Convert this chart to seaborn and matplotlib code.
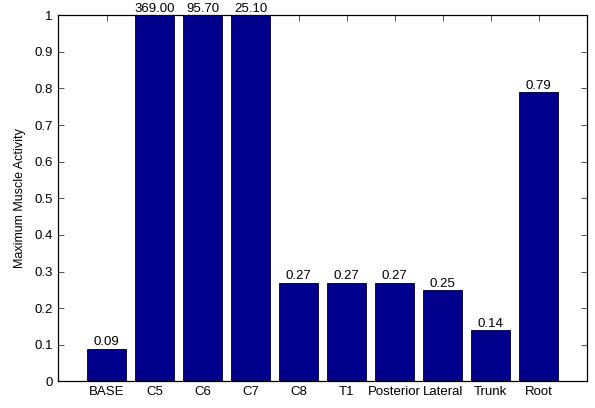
import matplotlib
matplotlib.use("Agg")
import matplotlib.pyplot as plt
import seaborn as sns
import pandas as pd

# Peak muscle activity per nerve condition
conditions = ["BASE", "C5", "C6", "C7", "C8", "T1", "Posterior", "Lateral", "Trunk", "Root"]
max_activity = [0.09, 369.00, 95.70, 25.10, 0.27, 0.27, 0.27, 0.25, 0.14, 0.79]
y_ticks = [0, 0.1, 0.2, 0.3, 0.4, 0.5, 0.6, 0.7, 0.8, 0.9, 1]
y_tick_labels = ["0", "0.1", "0.2", "0.3", "0.4", "0.5", "0.6", "0.7", "0.8", "0.9", "1"]

df = pd.DataFrame({"condition": conditions, "activity": max_activity})

sns.set_theme(style="white")
plt.rcParams["font.family"] = ["Liberation Sans", "DejaVu Sans"]
plt.rcParams["text.color"] = "black"
plt.rcParams["axes.labelcolor"] = "black"
plt.rcParams["xtick.color"] = "black"
plt.rcParams["ytick.color"] = "black"
fs = 9.5

fig = plt.figure(figsize=(5.95, 4.08), dpi=100)
ax = fig.add_axes([0.0983, 0.065, 0.8877, 0.898])

sns.barplot(data=df, x="condition", y="activity", ax=ax, color="#00008C",
            saturation=1, width=0.8, edgecolor="black", linewidth=0.6)

ax.set_ylim(0, 1)
ax.set_xlim(-1, len(conditions))

# value labels above each bar (clipped bars are labelled at the top edge)
for i, v in enumerate(max_activity):
    y = min(v, 1.0)
    ax.text(i, y + 0.001, f"{v:.2f}", ha="center", va="bottom",
            fontsize=fs, color="black", clip_on=False)

ax.set_yticks(y_ticks)
ax.set_yticklabels(y_tick_labels)
ax.set_xlabel("")
ax.set_ylabel("Maximum Muscle Activity", fontsize=9, labelpad=6)

ax.tick_params(axis="both", which="both", direction="in", length=4, width=0.6,
               labelsize=fs, top=True, right=True, bottom=True, left=True,
               color="#333333", labelcolor="black", pad=4)
ax.tick_params(axis="x", pad=3.5)

for s in ax.spines.values():
    s.set_visible(True)
    s.set_color("black")
    s.set_linewidth(0.9)

fig.savefig("out.png", dpi=100)
